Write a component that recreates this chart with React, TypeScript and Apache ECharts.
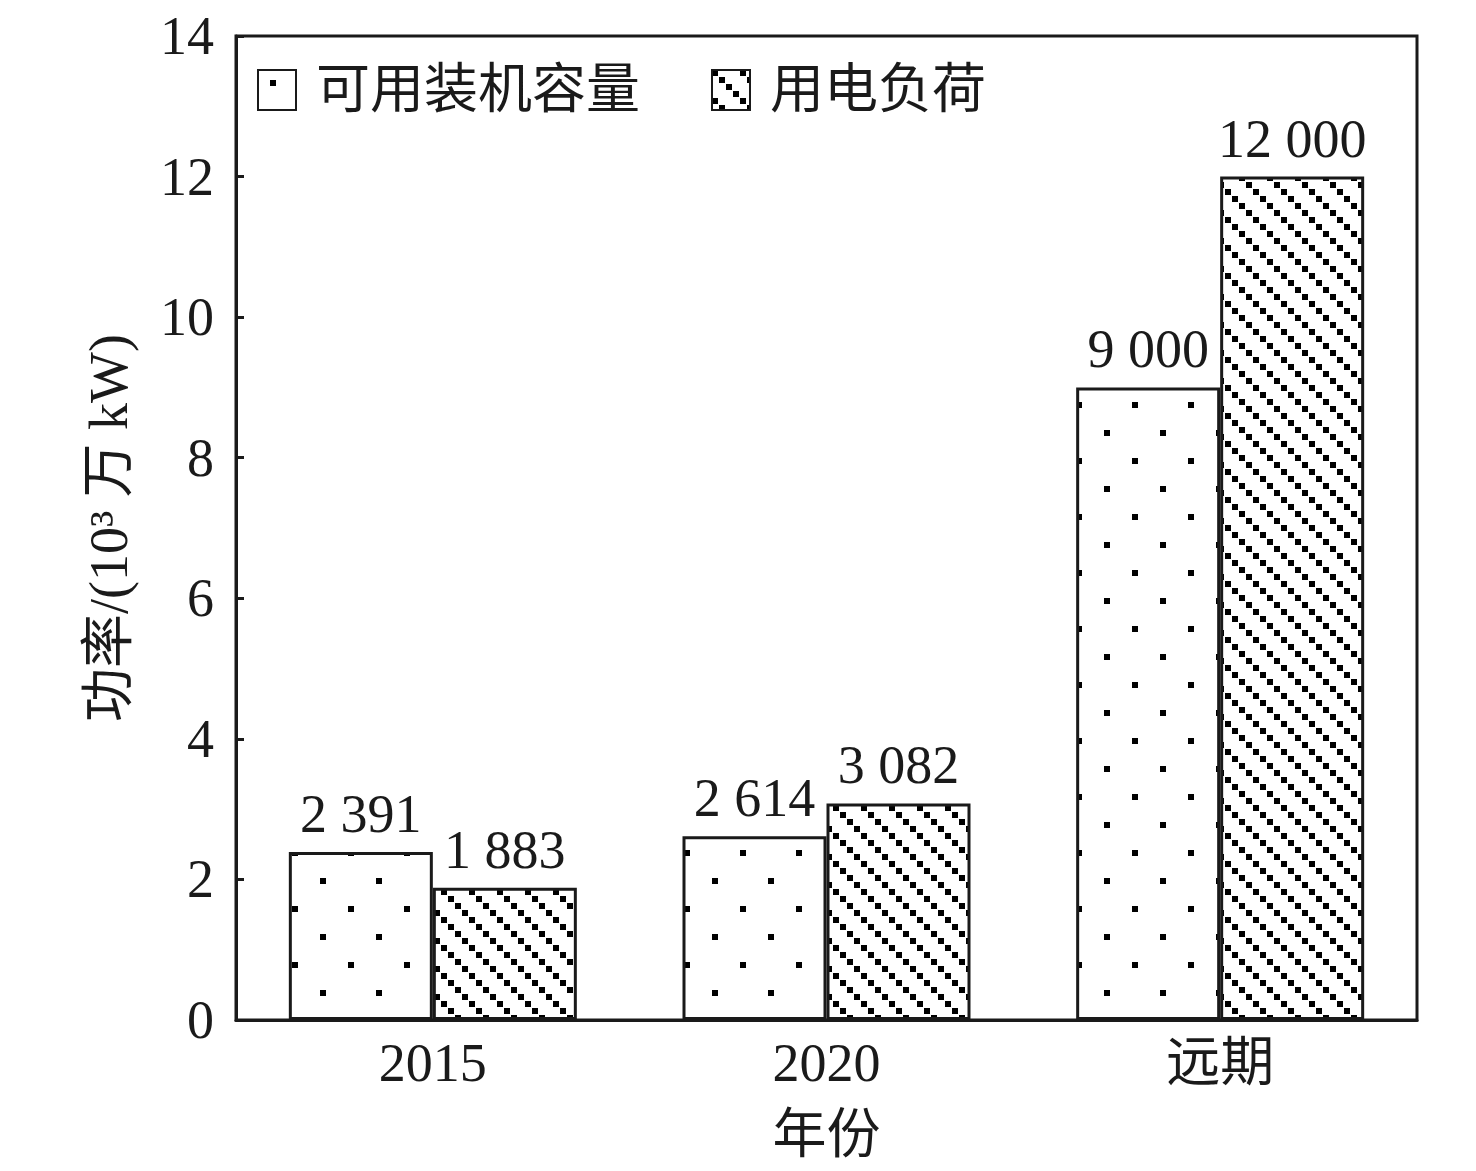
import React, { useEffect, useRef } from "react";
import * as echarts from "echarts";

const categories = ["2015", "2020", "远期"];
const capacity = [2391, 2614, 9000]; // 万kW
const load = [1883, 3082, 12000]; // 万kW
const seriesNames = ["可用装机容量", "用电负荷"];
const yTicks = { min: 0, max: 14, interval: 2 };

const FONT = "'Liberation Serif', 'Times New Roman', 'Noto Sans CJK SC', serif";

function dotPattern() {
  const c = document.createElement("canvas");
  c.width = 56;
  c.height = 56;
  const g = c.getContext("2d")!;
  g.fillStyle = "#fff";
  g.fillRect(0, 0, 56, 56);
  g.fillStyle = "#000";
  g.fillRect(12, 10, 6, 6);
  g.fillRect(40, 38, 6, 6);
  return { image: c, repeat: "repeat", imageWidth: 56, imageHeight: 56 };
}

function hatchPattern() {
  const c = document.createElement("canvas");
  c.width = 28;
  c.height = 28;
  const g = c.getContext("2d")!;
  g.fillStyle = "#fff";
  g.fillRect(0, 0, 28, 28);
  g.fillStyle = "#000";
  for (let i = 0; i < 4; i++) {
    g.fillRect(i * 7, i * 7, 6, 6);
  }
  return { image: c, repeat: "repeat", imageWidth: 28, imageHeight: 28 };
}

const fmt = (n: number) => String(n).replace(/\B(?=(\d{3})+(?!\d))/g, " ");

export default function App() {
  const ref = useRef<HTMLDivElement>(null);
  useEffect(() => {
    if (!ref.current) return;
    const chart = echarts.init(ref.current, undefined, { renderer: "svg" });
    const dots = dotPattern();
    const hatch = hatchPattern();
    const labelCfg = (raw: number[]) => ({
      show: true,
      position: "top",
      distance: 11,
      color: "#1a1a1a",
      fontFamily: FONT,
      fontSize: 54,
      formatter: (p: any) => fmt(raw[p.dataIndex]),
    });
    chart.setOption({
      animation: false,
      backgroundColor: "#fff",
      textStyle: { fontFamily: FONT },
      grid: {
        left: 236,
        right: 59,
        top: 36,
        bottom: 151,
        show: true,
        borderColor: "#1a1a1a",
        borderWidth: 3,
        containLabel: false,
      },
      legend: {
        left: 252,
        top: 58,
        itemWidth: 38,
        itemHeight: 40,
        itemGap: 71,
        icon: "rect",
        textStyle: {
          fontFamily: FONT,
          fontSize: 54,
          color: "#1a1a1a",
          padding: [0, 0, 0, 15],
        },
        data: seriesNames,
      },
      xAxis: {
        type: "category",
        data: categories,
        name: "年份",
        nameLocation: "middle",
        nameGap: 88,
        nameTextStyle: { fontFamily: FONT, fontSize: 54, color: "#1a1a1a" },
        axisLine: { lineStyle: { color: "#1a1a1a", width: 3 } },
        axisTick: { show: false },
        axisLabel: { fontFamily: FONT, fontSize: 54, color: "#1a1a1a", margin: 16 },
      },
      yAxis: {
        type: "value",
        min: yTicks.min,
        max: yTicks.max,
        interval: yTicks.interval,
        name: "功率/(10³ 万 kW)",
        nameLocation: "middle",
        nameGap: 100,
        nameTextStyle: { fontFamily: FONT, fontSize: 54, color: "#1a1a1a" },
        axisLine: { show: true, lineStyle: { color: "#1a1a1a", width: 3 } },
        axisTick: { show: true, inside: true, length: 8, lineStyle: { color: "#1a1a1a", width: 3 } },
        axisLabel: { fontFamily: FONT, fontSize: 54, color: "#1a1a1a", margin: 22 },
        splitLine: { show: false },
      },
      series: [
        {
          name: seriesNames[0],
          type: "bar",
          data: capacity.map((v) => v / 1000),
          barWidth: 144,
          barGap: "0%",
          itemStyle: { color: dots as any, borderColor: "#1a1a1a", borderWidth: 3 },
          label: labelCfg(capacity),
        },
        {
          name: seriesNames[1],
          type: "bar",
          data: load.map((v) => v / 1000),
          barWidth: 144,
          barGap: "0%",
          itemStyle: { color: hatch as any, borderColor: "#1a1a1a", borderWidth: 3 },
          label: labelCfg(load),
        },
      ],
    });
    return () => chart.dispose();
  }, []);
  return (
    <div
      ref={ref}
      style={{ position: "fixed", left: 0, top: 0, width: 1476, height: 1171, background: "#fff" }}
    />
  );
}
